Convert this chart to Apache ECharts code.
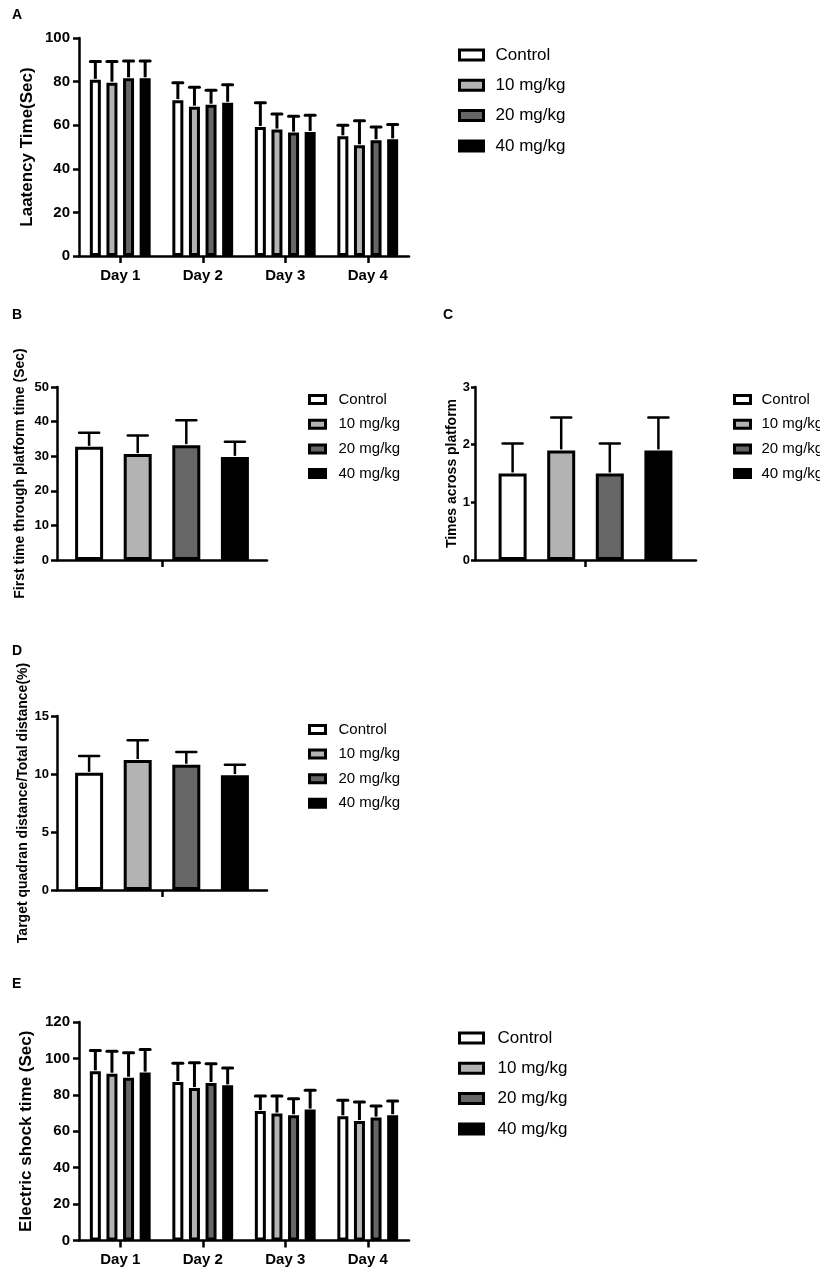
<!DOCTYPE html>
<html>
<head>
<meta charset="utf-8">
<title>Water maze and shock test</title>
<script src="https://cdn.jsdelivr.net/npm/echarts@6/dist/echarts.min.js"></script>
<style>
    html, body { margin: 0; padding: 0; background: #fff; }
    #chart { width: 820px; height: 1272px; }
</style>
</head>
<body>
<div id="chart"></div>
<script>
    var groups = ['Control', '10 mg/kg', '20 mg/kg', '40 mg/kg'];
    var groupColors = ['#ffffff', '#b3b3b3', '#666666', '#000000'];
    var days = ['Day 1', 'Day 2', 'Day 3', 'Day 4'];

    // A: latency time (means and upper error)
    var latencyMean = [
        [80.8, 71.5, 59.2, 54.9],
        [79.5, 68.5, 58.0, 50.8],
        [81.5, 69.4, 56.6, 53.1],
        [81.5, 70.3, 56.9, 53.5]
    ];
    var latencyErr = [
        [8.4, 8.0, 11.1, 5.1],
        [9.7, 8.9, 7.1, 11.2],
        [8.0, 6.6, 7.5, 6.1],
        [8.0, 8.2, 7.7, 6.8]
    ];

    // B: first time through platform
    var firstTimeMean = [32.7, 30.6, 33.2, 29.8];
    var firstTimeErr = [4.1, 5.4, 7.2, 4.4];

    // C: times across platform
    var crossMean = [1.5, 1.9, 1.5, 1.9];
    var crossErr = [0.52, 0.57, 0.52, 0.57];

    // D: target quadrant distance ratio
    var quadMean = [10.1, 11.2, 10.8, 9.9];
    var quadErr = [1.45, 1.7, 1.1, 0.9];

    // E: electric shock time
    var shockMean = [
        [92.9, 87.0, 71.1, 68.2],
        [91.6, 83.7, 69.7, 65.6],
        [89.4, 86.5, 68.8, 67.5],
        [92.2, 85.2, 71.9, 68.8]
    ];
    var shockErr = [
        [11.5, 10.4, 8.2, 8.8],
        [12.4, 13.9, 9.6, 10.5],
        [13.7, 10.6, 9.1, 6.4],
        [12.7, 9.5, 10.6, 7.8]
    ];

    var FONT = 'Liberation Sans, Arial, Helvetica, sans-serif';

    var myChart = echarts.init(document.getElementById('chart'), null, { renderer: 'canvas' });

    var wide = { bw: 11, gap: 5.6, border: 3, cap: 10, lw: 3 };
    var narrow = { bw: 28, gap: 20.6, border: 3, cap: 20, lw: 2.5 };

    var panels = [
        { key: 'A', grid: { left: 79, top: 38, width: 330, height: 218 }, cats: days,
          max: 100, interval: 20, name: 'Laatency Time(Sec)', nameSize: 17, nameGap: 43,
          tickSize: 15, tickMargin: 9, tickLen: 6, geom: wide, mean: latencyMean, err: latencyErr,
          legend: { left: 458, top: 46.5, w: 24, h: 10, gap: 13.3, size: 17, pad: 7 } },
        { key: 'B', grid: { left: 57, top: 387, width: 210, height: 173 }, cats: [''],
          max: 50, interval: 10, name: 'First time through platform time (Sec)', nameSize: 14, nameGap: 30,
          tickSize: 13, tickMargin: 8, tickLen: 6, geom: narrow, mean: firstTimeMean.map(function (v) { return [v]; }),
          err: firstTimeErr.map(function (v) { return [v]; }),
          legend: { left: 308, top: 392, w: 16, h: 8, gap: 9.7, size: 15, pad: 8 } },
        { key: 'C', grid: { left: 475, top: 387, width: 221, height: 173 }, cats: [''],
          max: 3, interval: 1, name: 'Times across platform', nameSize: 14, nameGap: 14,
          tickSize: 13, tickMargin: 5, tickLen: 4, geom: narrow, mean: crossMean.map(function (v) { return [v]; }),
          err: crossErr.map(function (v) { return [v]; }),
          legend: { left: 733, top: 392, w: 16, h: 8, gap: 9.7, size: 15, pad: 6 } },
        { key: 'D', grid: { left: 57, top: 716, width: 210, height: 174 }, cats: [''],
          max: 15, interval: 5, name: 'Target quadran distance/Total distance(%)', nameSize: 14, nameGap: 27,
          tickSize: 13, tickMargin: 8, tickLen: 6, geom: narrow, mean: quadMean.map(function (v) { return [v]; }),
          err: quadErr.map(function (v) { return [v]; }),
          legend: { left: 308, top: 722, w: 16, h: 8, gap: 9.6, size: 15, pad: 8 } },
        { key: 'E', grid: { left: 79, top: 1022, width: 330, height: 218.5 }, cats: days,
          max: 120, interval: 20, name: 'Electric shock time (Sec)', nameSize: 17, nameGap: 44,
          tickSize: 15, tickMargin: 9, tickLen: 6, geom: wide, mean: shockMean, err: shockErr,
          legend: { left: 458, top: 1029.5, w: 24, h: 10, gap: 13.3, size: 17, pad: 9 } }
    ];

    var letters = [
        { text: 'A', x: 12, y: 8 },
        { text: 'B', x: 12, y: 308 },
        { text: 'C', x: 443, y: 308 },
        { text: 'D', x: 12, y: 644 },
        { text: 'E', x: 12, y: 977 }
    ];

    function errorSeries(p, pi, gi) {
        var g = p.geom;
        return {
            type: 'custom',
            name: groups[gi] + ' err',
            xAxisIndex: pi,
            yAxisIndex: pi,
            z: 3,
            silent: true,
            encode: { x: 0, y: [1, 2] },
            data: p.mean[gi].map(function (m, i) {
                return [i, m, m + p.err[gi][i]];
            }),
            renderItem: function (params, api) {
                var base = api.coord([api.value(0), api.value(1)]);
                var top = api.coord([api.value(0), api.value(2)]);
                var total = 4 * g.bw + 3 * g.gap;
                var x = base[0] - total / 2 + g.bw / 2 + gi * (g.bw + g.gap);
                var half = g.cap / 2;
                return {
                    type: 'group',
                    children: [
                        { type: 'line', shape: { x1: x, y1: base[1] - 1, x2: x, y2: top[1] },
                          style: { stroke: '#000', lineWidth: g.lw } },
                        { type: 'line', shape: { x1: x - half, y1: top[1], x2: x + half, y2: top[1] },
                          style: { stroke: '#000', lineWidth: g.lw, lineCap: 'round' } }
                    ]
                };
            }
        };
    }

    var option = {
        animation: false,
        backgroundColor: '#fff',
        textStyle: { fontFamily: FONT, color: '#000' },
        grid: [],
        xAxis: [],
        yAxis: [],
        legend: [],
        series: [],
        graphic: letters.map(function (l) {
            return {
                type: 'text', left: l.x, top: l.y,
                style: { text: l.text, fontSize: 14, fontWeight: 'bold', fontFamily: FONT, fill: '#000' }
            };
        })
    };

    panels.forEach(function (p, pi) {
        var g = p.geom;
        option.grid.push({
            left: p.grid.left, top: p.grid.top, width: p.grid.width, height: p.grid.height,
            containLabel: false, outerBoundsMode: 'none'
        });
        option.xAxis.push({
            type: 'category',
            gridIndex: pi,
            data: p.cats,
            axisLine: { show: true, lineStyle: { color: '#000', width: 2.5 } },
            axisTick: { show: true, alignWithLabel: true, length: 7, lineStyle: { color: '#000', width: 2.5 } },
            axisLabel: {
                show: p.cats.length > 1, color: '#000', fontWeight: 'bold',
                fontSize: p.tickSize, fontFamily: FONT, margin: 12
            },
            splitLine: { show: false }
        });
        option.yAxis.push({
            type: 'value',
            gridIndex: pi,
            min: 0,
            max: p.max,
            interval: p.interval,
            name: p.name,
            nameLocation: 'middle',
            nameGap: p.nameGap,
            nameTextStyle: { color: '#000', fontWeight: 'bold', fontSize: p.nameSize, fontFamily: FONT },
            axisLine: { show: true, lineStyle: { color: '#000', width: 2.5 } },
            axisTick: { show: true, length: p.tickLen, lineStyle: { color: '#000', width: 2.5 } },
            axisLabel: {
                color: '#000', fontWeight: 'bold', fontSize: p.tickSize, fontFamily: FONT, margin: p.tickMargin
            },
            splitLine: { show: false }
        });
        option.legend.push({
            orient: 'vertical',
            left: p.legend.left,
            top: p.legend.top,
            padding: 0,
            itemWidth: p.legend.w,
            itemHeight: p.legend.h,
            itemGap: p.legend.gap,
            icon: 'rect',
            selectedMode: false,
            data: groups,
            itemStyle: { borderColor: '#000', borderWidth: 3 },
            textStyle: {
                color: '#000', fontSize: p.legend.size, fontFamily: FONT,
                padding: [0, 0, 0, p.legend.pad]
            }
        });
        groups.forEach(function (name, gi) {
            option.series.push({
                type: 'bar',
                name: name,
                xAxisIndex: pi,
                yAxisIndex: pi,
                barWidth: g.bw,
                barGap: (g.gap / g.bw * 100).toFixed(2) + '%',
                itemStyle: { color: groupColors[gi], borderColor: '#000', borderWidth: g.border },
                emphasis: { disabled: true },
                data: p.mean[gi]
            });
        });
        groups.forEach(function (name, gi) {
            option.series.push(errorSeries(p, pi, gi));
        });
    });

    myChart.setOption(option);
</script>
</body>
</html>
